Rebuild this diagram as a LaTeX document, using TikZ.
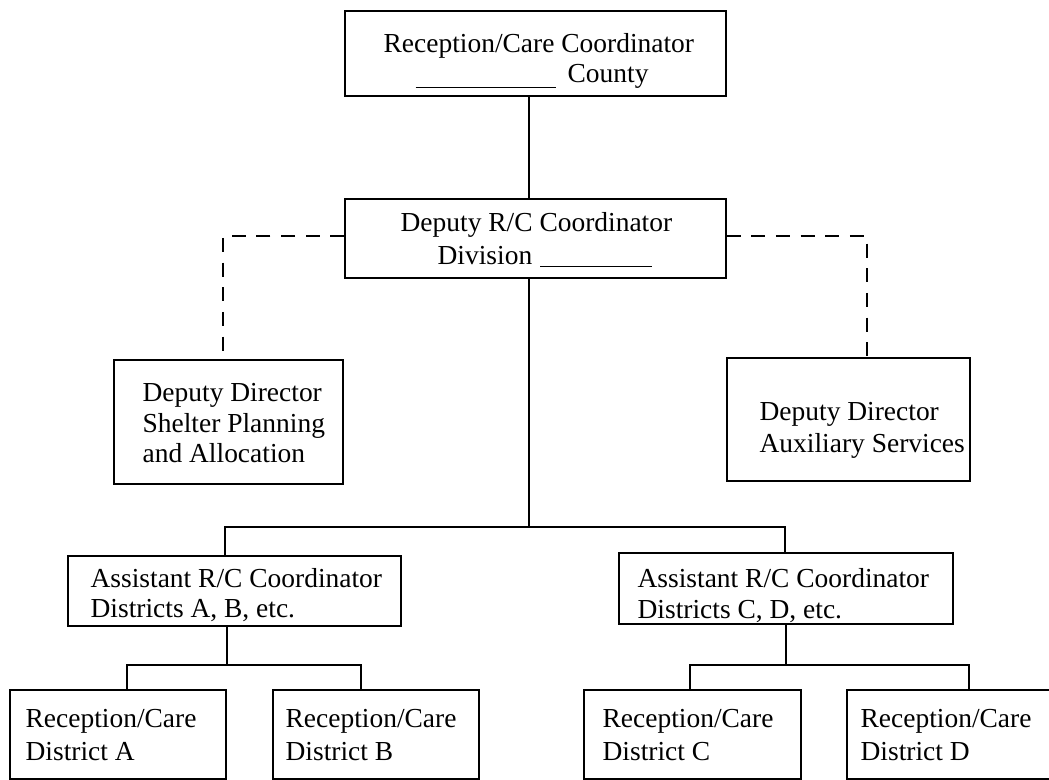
\documentclass[tikz,border=0pt]{standalone}
\usepackage{fontspec}
\setmainfont{Liberation Serif}
\usetikzlibrary{fit}
\newdimen\pxu \pxu=0.75pt
\begin{document}
\begin{tikzpicture}[x=0.75pt,y=-0.75pt,line width=0.95pt,
  box/.style={draw, inner sep=0pt},
  t/.style={anchor=base west, inner sep=0pt, font=\fontsize{20.6}{25}\selectfont},
  dashline/.style={dash pattern=on 10.5pt off 8pt}]
\useasboundingbox (0,0) rectangle (1049,780);
\clip (0,0) rectangle (1049,780);
\fill[white] (0,0) rectangle (1049,780);
% boxes
\node[box, fit={(345,11) (726,96)}] (top) {};
\node[box, fit={(345,199) (726,278)}] (dep) {};
\node[box, fit={(114,360) (343,484)}] (lbox) {};
\node[box, fit={(727,358) (970,481)}] (rbox) {};
\node[box, fit={(68,556) (401,626)}] (asl) {};
\node[box, fit={(619,553) (953,624)}] (asr) {};
\node[box, fit={(10,690) (226,779)}] (dA) {};
\node[box, fit={(273,690) (479,779)}] (dB) {};
\node[box, fit={(584,690) (801,779)}] (dC) {};
\node[box, fit={(847,690) (1070,779)}] (dD) {};
% texts
\node[t] (top1) at (383,53) {Reception/Care Coordinator};
\node[t] (top2) at (415,83) {\rule[-5\pxu]{140\pxu}{1.2\pxu}\hspace{12\pxu}County};
\node[t] (dep1) at (400,232) {Deputy R/C Coordinator};
\node[t] (dep2) at (437,265) {Division\hspace{8\pxu}\rule[-2\pxu]{112\pxu}{1.2\pxu}};
\node[t] (l1) at (142,402) {Deputy Director};
\node[t] (l2) at (142,432) {Shelter Planning};
\node[t] (l3) at (142,462) {and Allocation};
\node[t] (r1) at (759,420) {Deputy Director};
\node[t] (r2) at (759,452) {Auxiliary Services};
\node[t] (al1) at (90,587) {Assistant R/C Coordinator};
\node[t] (al2) at (90,617) {Districts A, B, etc.};
\node[t] (ar1) at (637,587) {Assistant R/C Coordinator};
\node[t] (ar2) at (637,618) {Districts C, D, etc.};
\node[t] (a1) at (25,727) {Reception/Care};
\node[t] (a2) at (25,760) {District A};
\node[t] (b1) at (285,727) {Reception/Care};
\node[t] (b2) at (285,760) {District B};
\node[t] (c1) at (602,727) {Reception/Care};
\node[t] (c2) at (602,760) {District C};
\node[t] (d1) at (860,727) {Reception/Care};
\node[t] (d2) at (860,760) {District D};
% junction coordinates
\coordinate (cm) at (529,527);
\coordinate (bl) at (225,527);
\coordinate (br) at (785,527);
\coordinate (dl) at (223,236);
\coordinate (dr) at (867,236);
\coordinate (jl) at (227,665);
\coordinate (al) at (127,665);
\coordinate (ar) at (361,665);
\coordinate (jr) at (786,665);
\coordinate (cl) at (690,665);
\coordinate (cr) at (969,665);
% connectors
\draw (top.south -| cm) -- (dep.north -| cm);
\draw (dep.south -| cm) -- (cm);
\draw (asl.north -| bl) -- (bl) -- (br) -- (asr.north -| br);
\draw (asl.south -| jl) -- (jl);
\draw (dA.north -| al) -- (al) -- (ar) -- (dB.north -| ar);
\draw (asr.south -| jr) -- (jr);
\draw (dC.north -| cl) -- (cl) -- (cr) -- (dD.north -| cr);
\draw[dashline] (dep.west |- dl) -- (dl) -- (lbox.north -| dl);
\draw[dashline] (dep.east |- dr) -- (dr) -- (rbox.north -| dr);
\end{tikzpicture}
\end{document}
